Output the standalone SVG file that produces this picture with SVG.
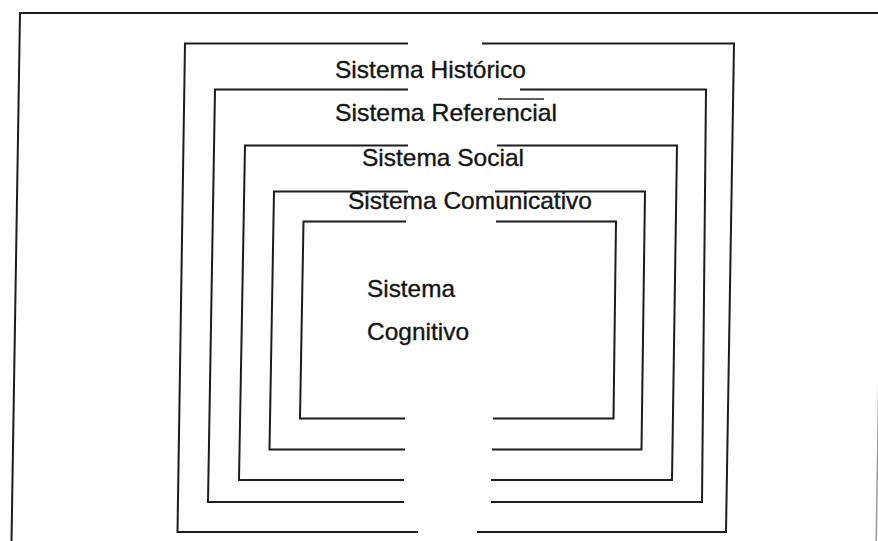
<svg xmlns="http://www.w3.org/2000/svg" width="878" height="541" viewBox="0 0 878 541">
<style>
.ln{fill:none;stroke:#1c1c1c;stroke-width:2;stroke-linecap:butt;stroke-linejoin:miter}
.lb{font-family:"Liberation Sans",Arial,sans-serif;font-size:24px;fill:#141414;stroke:#141414;stroke-width:0.35}
</style>
<rect x="0" y="0" width="878" height="541" fill="#ffffff"/>
<g id="frame">
<path class="ln" d="M11.5,541 L20,13 H878"/>
<path d="M884.6,13 L876.2,541" fill="none" stroke="#9a9a9a" stroke-width="1.5"/>
</g>
<g id="sistema-historico">
<path class="ln" d="M408,43.5 H185 L177.5,532 H418 M477,532 H726 L734,43.5 H482"/>
<text class="lb" x="335" y="78" textLength="191" lengthAdjust="spacingAndGlyphs">Sistema Histórico</text>
</g>
<g id="sistema-referencial">
<path class="ln" d="M408,89.5 H215 L208,502 H404 M491,502 H702 L706,89.5 H520"/>
<path d="M498,99 H544" fill="none" stroke="#2a2a2a" stroke-width="1.5"/>
<text class="lb" x="335" y="121" textLength="222" lengthAdjust="spacingAndGlyphs">Sistema Referencial</text>
</g>
<g id="sistema-social">
<path class="ln" d="M408,145.5 H245 L239,480 H404 M491,480 H672 L677,145.5 H497"/>
<text class="lb" x="362" y="166" textLength="162" lengthAdjust="spacingAndGlyphs">Sistema Social</text>
</g>
<g id="sistema-comunicativo">
<path class="ln" d="M408,191.5 H274 L269.5,449.5 H405 M492,449.5 H641.5 L645,191.5 H495"/>
<text class="lb" x="348" y="209" textLength="244" lengthAdjust="spacingAndGlyphs">Sistema Comunicativo</text>
</g>
<g id="sistema-cognitivo">
<path class="ln" d="M406,221.5 H303.5 L300,418.5 H405 M493,418.5 H613.5 L616,221.5 H496"/>
<text class="lb" x="367" y="297" textLength="88" lengthAdjust="spacingAndGlyphs">Sistema</text>
<text class="lb" x="367" y="340" textLength="102" lengthAdjust="spacingAndGlyphs">Cognitivo</text>
</g>
<g id="connectors"/>
</svg>
